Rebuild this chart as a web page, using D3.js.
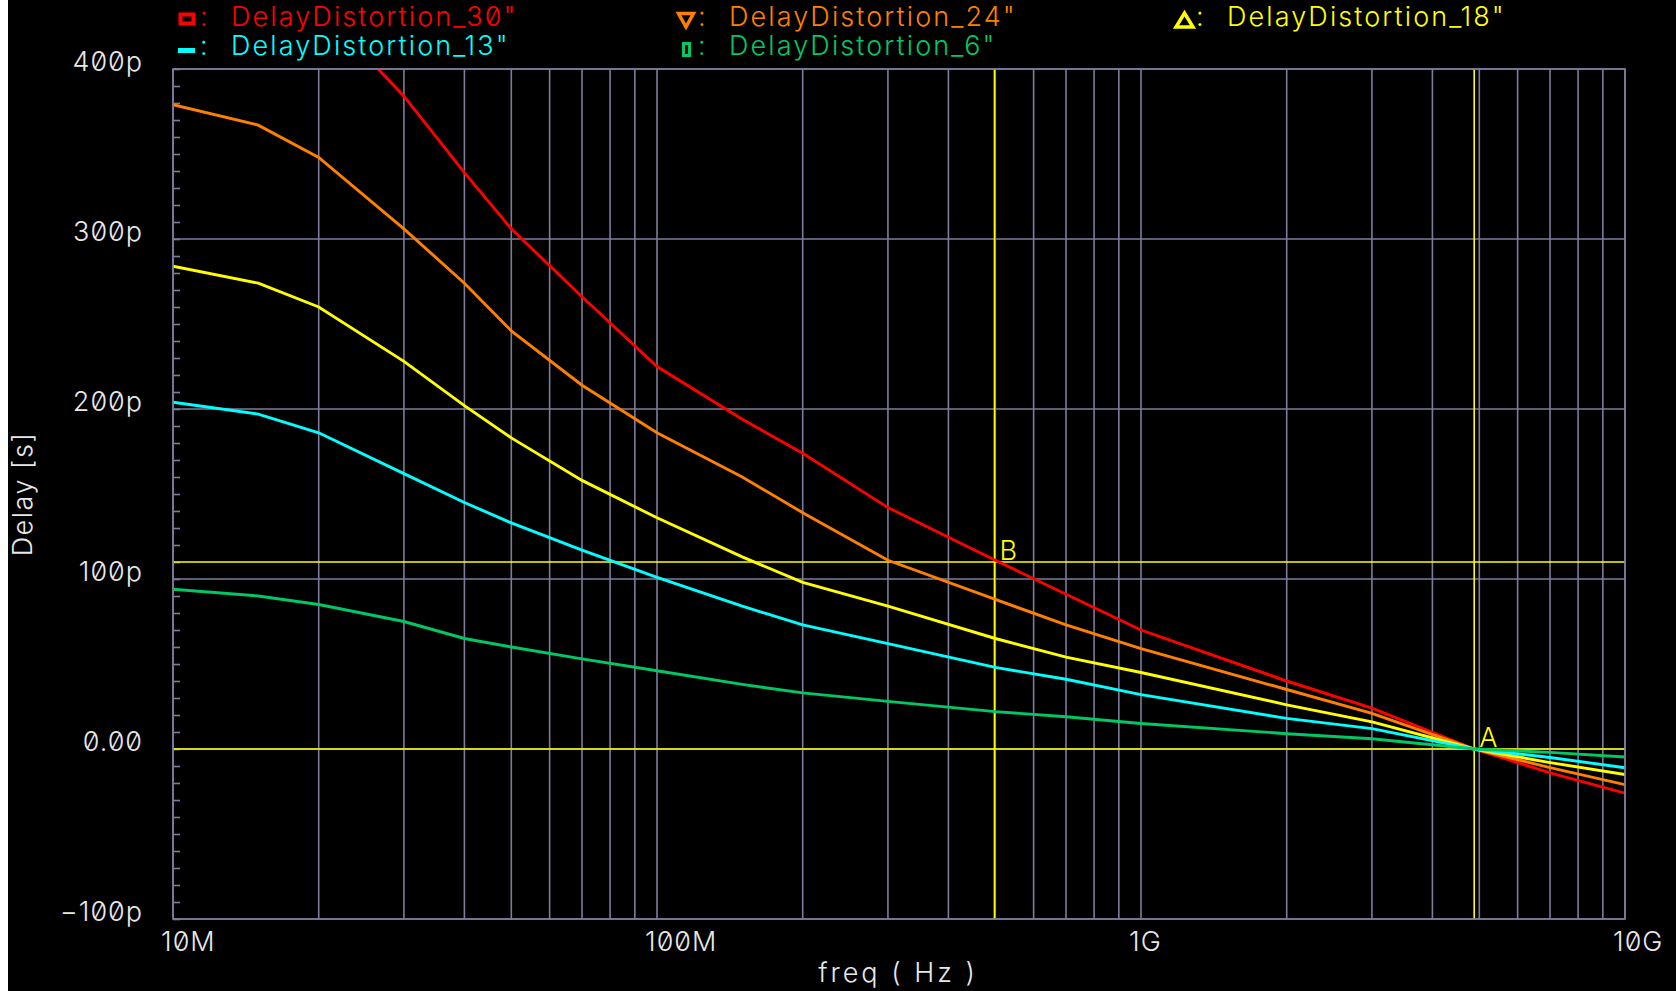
<!DOCTYPE html>
<html>
<head>
<meta charset="utf-8">
<script src="https://cdn.jsdelivr.net/npm/d3@7"></script>
<style>
  html, body { margin: 0; padding: 0; background: #fff; }
  svg { display: block; }
  text { font-family: Inter, "Liberation Sans", sans-serif; font-weight: 300;
         font-feature-settings: "zero" 1; }
</style>
</head>
<body>
<div id="chart"></div>
<script>
// frequency sample points (Hz)
var freqs = [10e6, 15e6, 20e6, 30e6, 40e6, 50e6, 70e6, 100e6, 150e6, 200e6, 300e6,
             500e6, 700e6, 1e9, 2e9, 3e9, 4.88e9, 7e9, 10e9];

// delay distortion in ps
var d30 = [478, 460, 437, 384, 339, 306, 266, 225, 194, 174, 142, 111, 91, 70, 40, 24, 0, -14, -26];
var d24 = [379, 367, 348, 306, 274, 246, 214, 186, 160, 139, 111, 88, 73, 59, 35, 21, 0, -11, -21];
var d18 = [284, 274, 260, 228, 202, 183, 158, 136, 113, 98, 84, 65, 54, 45, 26, 16, 0, -8, -15];
var d13 = [204, 197, 186, 162, 145, 133, 117, 101, 84, 73, 62, 48, 41, 32, 18, 12, 0, -5, -11];
var d6  = [94, 90, 85, 75, 65, 60, 53, 46, 38, 33, 28, 22, 19, 15, 9, 6, 0, -2, -4.7];

var seriesNames = ['DelayDistortion_30"', 'DelayDistortion_24"', 'DelayDistortion_18"',
                   'DelayDistortion_13"', 'DelayDistortion_6"'];
var seriesColors = ["#ff0000", "#ff8000", "#ffff00", "#00ffff", "#00c864"];
var seriesValues = [d30, d24, d18, d13, d6];

var yTicks = [-100, 0, 100, 200, 300, 400];
var yTickLabels = ["\u2212100p", "0.00", "100p", "200p", "300p", "400p"];
var xTicks = [10e6, 100e6, 1e9, 10e9];
var xTickLabels = ["10M", "100M", "1G", "10G"];

// cursors
var markerA = {f: 4.88e9, v: 0, name: "A"};
var markerB = {f: 498e6, v: 110, name: "B"};

var W = 1676, H = 991;
var pLeft = 173, pRight = 1625, pTop = 69, pBottom = 919;
var grid = "#7c7c9c";

var svg = d3.select("#chart").append("svg").attr("width", W).attr("height", H);
svg.append("rect").attr("x", 8).attr("y", 0).attr("width", W - 8).attr("height", H).attr("fill", "#000");

var x = d3.scaleLog().domain([10e6, 10e9]).range([pLeft, pRight]);
var y = d3.scaleLinear().domain([-100, 400]).range([pBottom, pTop]);

// vertical grid (log decades and sub-decades)
svg.append("g").selectAll("line").data(x.ticks()).enter().append("line")
	.attr("x1", function(d) { return x(d); }).attr("x2", function(d) { return x(d); })
	.attr("y1", pTop).attr("y2", pBottom)
	.attr("stroke", grid).attr("stroke-width", 1.6);

// horizontal grid
svg.append("g").selectAll("line").data(yTicks).enter().append("line")
	.attr("x1", pLeft).attr("x2", pRight)
	.attr("y1", function(d) { return y(d); }).attr("y2", function(d) { return y(d); })
	.attr("stroke", grid).attr("stroke-width", 1.6);

// minor ticks on left edge
var minor = svg.append("g").attr("transform", "translate(" + pLeft + ",0)")
	.call(d3.axisRight(y).tickValues(d3.range(-100, 401, 10)).tickSize(7).tickFormat(""));
minor.select(".domain").remove();
minor.selectAll("line").attr("stroke", grid).attr("stroke-width", 1.6);

// y labels
svg.append("g").selectAll("text").data(yTicks).enter().append("text")
	.attr("x", 143).attr("y", function(d) { return y(d) + 2; })
	.attr("text-anchor", "end").attr("fill", "#e8e8e8").attr("font-size", 27)
	.attr("letter-spacing", 1)
	.text(function(d, i) { return yTickLabels[i]; });

// x labels
svg.append("g").selectAll("text").data(xTicks).enter().append("text")
	.attr("x", function(d) { return x(d) - 12; }).attr("y", 951)
	.attr("fill", "#e8e8e8").attr("font-size", 27).attr("letter-spacing", 1)
	.text(function(d, i) { return xTickLabels[i]; });

// axis titles
svg.append("text").attr("transform", "translate(32,494) rotate(-90)")
	.attr("text-anchor", "middle").attr("fill", "#e8e8e8").attr("font-size", 27)
	.attr("letter-spacing", 1.5)
	.text("Delay [s]");
svg.append("text").attr("x", 898).attr("y", 982)
	.attr("text-anchor", "middle").attr("fill", "#e8e8e8").attr("font-size", 27)
	.attr("letter-spacing", 3)
	.text("freq ( Hz )");

// cursors
var cur = svg.append("g").attr("stroke", "#ffff00").attr("stroke-width", 1.6);
[markerA, markerB].forEach(function(m) {
	cur.append("line").attr("x1", x(m.f)).attr("x2", x(m.f)).attr("y1", pTop).attr("y2", pBottom);
	cur.append("line").attr("x1", pLeft).attr("x2", pRight).attr("y1", y(m.v)).attr("y2", y(m.v));
	svg.append("text").attr("x", x(m.f) + 5).attr("y", y(m.v) - 2)
		.attr("fill", "#ffff00").attr("font-size", 27).text(m.name);
});

// curves
svg.append("clipPath").attr("id", "plotclip").append("rect")
	.attr("x", pLeft).attr("y", pTop).attr("width", pRight - pLeft).attr("height", pBottom - pTop);

var line = d3.line()
	.x(function(d, i) { return x(freqs[i]); })
	.y(function(d) { return y(d); });

svg.append("g").attr("clip-path", "url(#plotclip)")
	.selectAll("path").data(seriesValues).enter().append("path")
	.attr("d", line).attr("fill", "none")
	.attr("stroke", function(d, i) { return seriesColors[i]; })
	.attr("stroke-width", 2.9);

// border
svg.append("rect").attr("x", pLeft).attr("y", pTop).attr("width", pRight - pLeft).attr("height", pBottom - pTop)
	.attr("fill", "none").attr("stroke", grid).attr("stroke-width", 1.6);

// legend
var legendPos = [[178, 26], [676, 26], [1174, 26], [178, 55], [676, 55]];
var leg = svg.append("g").selectAll("g").data(seriesNames).enter().append("g")
	.attr("transform", function(d, i) { return "translate(" + legendPos[i][0] + "," + legendPos[i][1] + ")"; });

leg.each(function(d, i) {
	var g = d3.select(this), c = seriesColors[i];
	if (i == 0) g.append("rect").attr("x", 2.5).attr("y", -11.5).attr("width", 13).attr("height", 9)
		.attr("fill", "none").attr("stroke", c).attr("stroke-width", 4);
	if (i == 1) g.append("path").attr("d", "M2.5,-12.5 L17.5,-12.5 L10,1 Z")
		.attr("fill", "none").attr("stroke", c).attr("stroke-width", 3.5);
	if (i == 2) g.append("path").attr("d", "M2,1 L19,1 L10.5,-13 Z")
		.attr("fill", "none").attr("stroke", c).attr("stroke-width", 3.5);
	if (i == 3) g.append("rect").attr("x", 0).attr("y", -7).attr("width", 17).attr("height", 5).attr("fill", c);
	if (i == 4) g.append("rect").attr("x", 7.5).attr("y", -11.5).attr("width", 6).attr("height", 12)
		.attr("fill", "none").attr("stroke", c).attr("stroke-width", 3);
	g.append("text").attr("x", 22).attr("y", 0).attr("fill", c).attr("font-size", 27).text(":");
	g.append("text").attr("x", 53).attr("y", 0).attr("fill", c).attr("font-size", 27)
		.attr("letter-spacing", 2.1).text(d);
});
</script>
</body>
</html>
